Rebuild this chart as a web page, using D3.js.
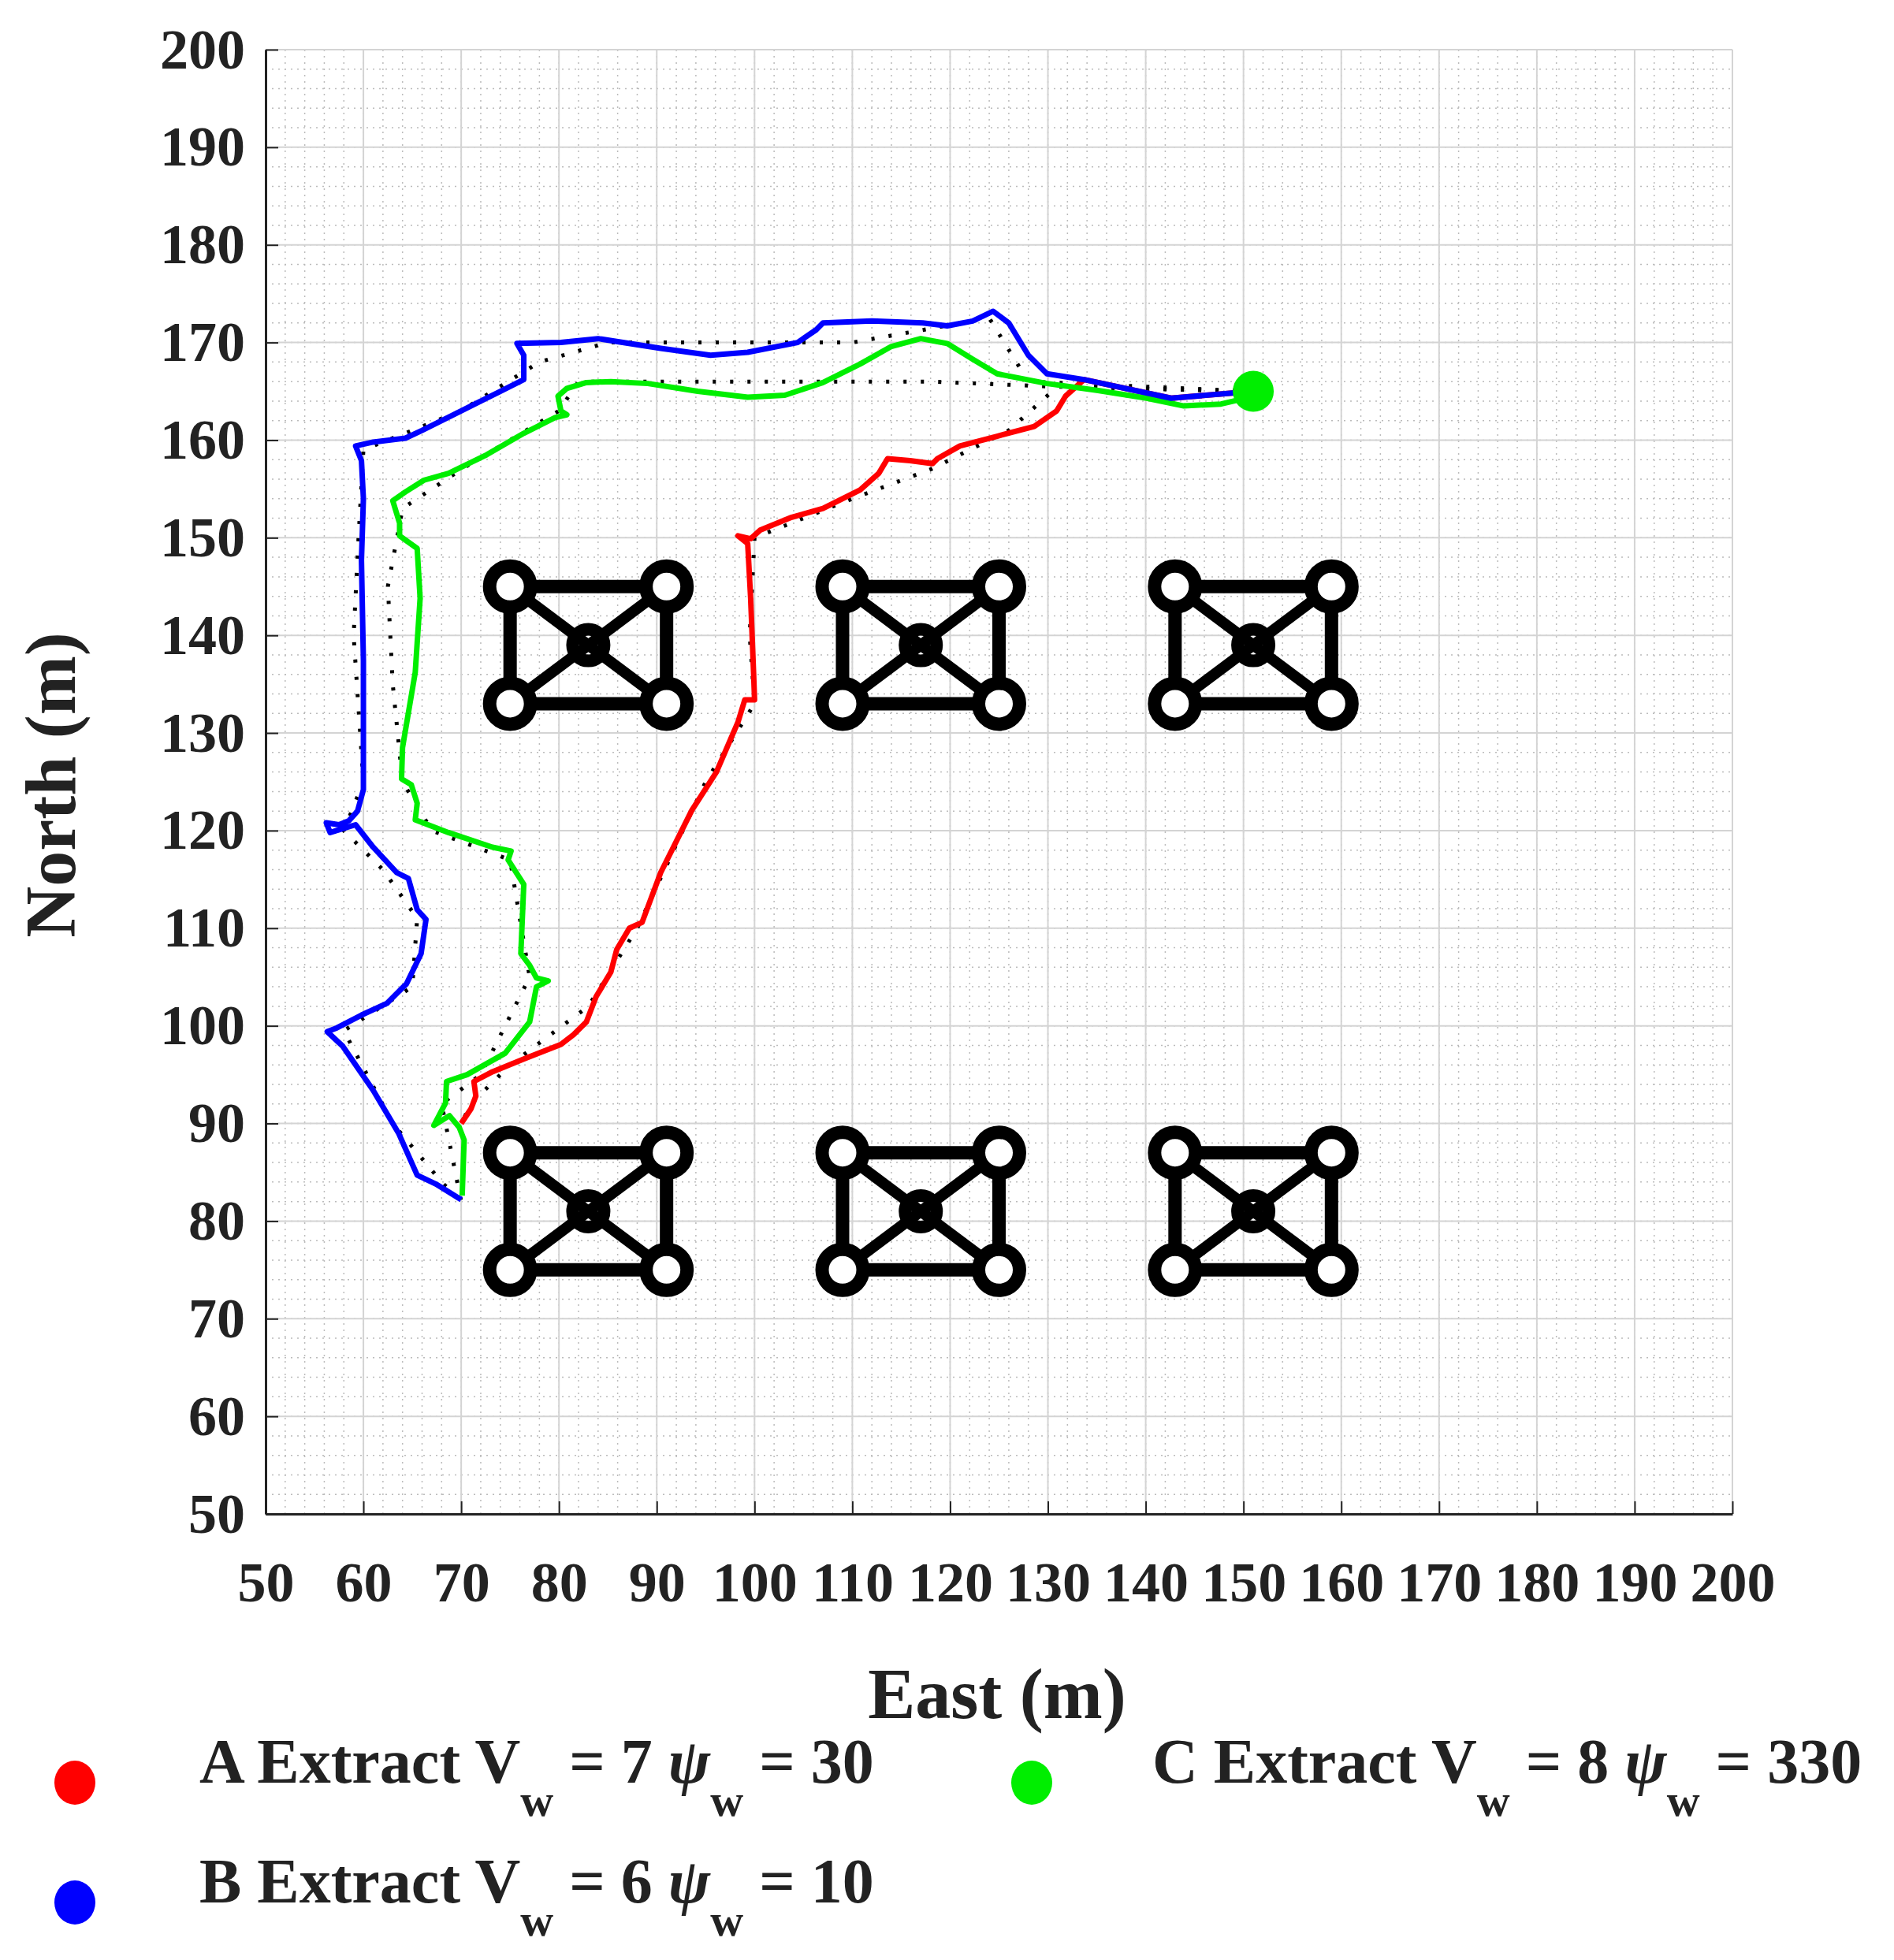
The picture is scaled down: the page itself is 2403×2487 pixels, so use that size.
<!DOCTYPE html>
<meta charset="utf-8">
<head><title>Extraction paths</title></head>
<style>
body { margin: 0; background: #fff; }
svg text { font-family: "Liberation Serif", "DejaVu Serif", serif; font-weight: bold; fill: #222; }
</style>
<body>
<svg id="chart" width="2403" height="2487"></svg>
<script src="https://cdnjs.cloudflare.com/ajax/libs/d3/7.8.5/d3.min.js"></script>
<script>
var ticks = d3.range(50, 201, 10);

var pathA = [[151,165],[142.6,164.3],[133.7,166.2],[131.8,164.5],[130.9,163],[128.6,161.4],[124.8,160.4],[121,159.4],[118.7,158.1],[118.2,157.6],[115.9,157.9],[113.6,158.1],[112.7,156.6],[110.8,154.9],[107,153],[103.8,152.1],[100.6,150.8],[99.6,149.9],[98.3,150.2],[99.3,149.4],[99.6,143.8],[99.9,136.2],[100,133.4],[99,133.4],[98.3,131.1],[96.1,126],[93.6,122.1],[90.4,115.7],[88.5,110.6],[87.2,110],[85.9,107.8],[85.3,105.5],[83.8,103],[82.8,100.4],[81.5,99.1],[80.2,98.1],[76.4,96.6],[73.2,95.3],[71.3,94.3],[71.5,92.8],[71,91.5],[70,90]];

var pathB = [[151,165],[142.6,164.3],[133.7,166.2],[129.9,166.8],[128,168.7],[126,172],[124.4,173.2],[122.3,172.2],[119.7,171.7],[117.2,172],[112,172.2],[107,172],[106.3,171.3],[104.4,170],[99.3,169],[95.5,168.7],[90.4,169.4],[84,170.4],[80.2,170],[75.7,169.9],[76.4,168.7],[76.4,166.2],[73.8,164.9],[70,163],[66,161],[64.3,160.2],[61,159.8],[59.2,159.4],[59.8,157.9],[60,154],[59.8,147.7],[60,137.4],[60,124.2],[59.4,122],[58.5,121],[57.5,120.6],[56.2,120.8],[56.6,119.8],[57.9,120.2],[59.2,120.6],[61,118.3],[63.4,115.7],[64.6,115.1],[65.5,111.9],[66.4,110.9],[65.9,107.4],[64.4,104.3],[62.4,102.3],[59.8,101.1],[57.3,99.8],[56.3,99.4],[57.9,97.9],[61,93.4],[63.6,89],[65.5,84.7],[67.4,83.8],[70,82.2]];

var pathC = [[151,165],[150.3,164.3],[147.7,163.7],[143.9,163.5],[140.1,164.3],[135,165.1],[129.9,165.8],[124.8,166.8],[122.3,168.3],[119.7,169.9],[117,170.4],[114,169.6],[110.8,167.8],[107,165.9],[103.1,164.6],[99.3,164.4],[94.2,165],[89.1,165.8],[85.3,166],[82.8,165.9],[80.8,165.3],[79.9,164.5],[80.2,163],[80.8,162.6],[79.6,162.3],[76.4,160.7],[72.6,158.5],[68.7,156.6],[66.2,155.9],[64.3,154.7],[63,153.8],[63.7,151.5],[63.7,150.2],[65.5,148.9],[65.8,143.8],[65.3,136.2],[64,128.5],[63.9,125.3],[64.9,124.7],[65.5,122.8],[65.3,121.1],[68.7,119.8],[73.2,118.3],[75.1,117.9],[74.8,117],[76.4,114.5],[76.1,107.4],[77,106.2],[77.7,104.9],[78.9,104.6],[77.7,104],[77,100.4],[74.5,97.2],[70.6,95],[68.5,94.3],[68.4,92.1],[67.2,89.8],[68.8,90.8],[69.8,89.6],[70.3,88.3],[70.1,82.6]];

var plannedA = [[151,165],[131,165.5],[126,161],[118,157],[110,154],[100,150],[99.5,140],[100,133],[95,125],[88,110],[83,102],[75,96],[71,92],[70,90]];
var plannedB = [[151,165],[128,166],[124,172.5],[110,170],[85,170],[78,168],[70,163],[60,159],[59.5,150],[59,140],[60,125],[58,120],[62,116],[65.5,111],[65,104],[58,99.5],[63,90],[68,84],[70,82]];
var plannedC = [[151,165],[130,165.5],[118,166],[100,166],[82,166],[80,163],[70,157],[64,153],[62.5,145],[63,135],[64,125],[67,120],[75,117],[77,105],[72,95],[68,92],[70,82]];

var obstacles = [[83,139],[117,139],[151,139],[83,81],[117,81],[151,81]];
var start = [151,165];

var svg = d3.select("#chart");
var x = d3.scaleLinear().domain([50, 200]).range([337, 2198]);
var y = d3.scaleLinear().domain([50, 200]).range([1921, 63]);

// minor dotted grid
var minor = d3.range(50, 201, 2);
var g = svg.append("g");
g.selectAll(".mx").data(minor).enter().append("line")
  .attr("x1", d => x(d)).attr("x2", d => x(d)).attr("y1", y(50)).attr("y2", y(200))
  .attr("stroke", "#bbb").attr("stroke-width", 1.5).attr("stroke-dasharray", "2,6");
g.selectAll(".my").data(minor).enter().append("line")
  .attr("y1", d => y(d)).attr("y2", d => y(d)).attr("x1", x(50)).attr("x2", x(200))
  .attr("stroke", "#bbb").attr("stroke-width", 1.5).attr("stroke-dasharray", "2,6");
// major grid
g.selectAll(".Mx").data(ticks).enter().append("line")
  .attr("x1", d => x(d)).attr("x2", d => x(d)).attr("y1", y(50)).attr("y2", y(200))
  .attr("stroke", "#d4d4d4").attr("stroke-width", 2);
g.selectAll(".My").data(ticks).enter().append("line")
  .attr("y1", d => y(d)).attr("y2", d => y(d)).attr("x1", x(50)).attr("x2", x(200))
  .attr("stroke", "#d4d4d4").attr("stroke-width", 2);

// axes
var xAxis = svg.append("g").attr("transform", "translate(0," + y(50) + ")")
  .call(d3.axisBottom(x).tickValues(ticks).tickSizeInner(-16).tickSizeOuter(0).tickPadding(60));
var yAxis = svg.append("g").attr("transform", "translate(" + x(50) + ",0)")
  .call(d3.axisLeft(y).tickValues(ticks).tickSizeInner(-16).tickSizeOuter(0).tickPadding(26));
[xAxis, yAxis].forEach(function(a) {
  a.select(".domain").attr("stroke", "#222").attr("stroke-width", 3);
  a.selectAll(".tick line").attr("stroke", "#222").attr("stroke-width", 2);
  a.selectAll("text").style("font-size", "72px").style("font-family", "Liberation Serif").style("font-weight", "bold").attr("fill", "#222");
});
xAxis.selectAll("text").attr("dy", "0.71em");

svg.append("text").attr("x", 1265).attr("y", 2180).attr("text-anchor", "middle")
  .style("font-size", "90px").text("East (m)");
svg.append("text").attr("transform", "translate(95,996) rotate(-90)").attr("text-anchor", "middle")
  .style("font-size", "90px").text("North (m)");

// obstacles
var ob = svg.append("g").attr("stroke", "#000").attr("fill", "none");
obstacles.forEach(function(c) {
  var cx = c[0], cy = c[1];
  var corners = [[cx-8, cy+6],[cx+8, cy+6],[cx+8, cy-6],[cx-8, cy-6]];
  var o = ob.append("g");
  o.append("polygon").attr("points", corners.map(p => x(p[0]) + "," + y(p[1])).join(" ")).attr("stroke-width", 17);
  o.append("line").attr("x1", x(cx-8)).attr("y1", y(cy+6)).attr("x2", x(cx+8)).attr("y2", y(cy-6)).attr("stroke-width", 14);
  o.append("line").attr("x1", x(cx+8)).attr("y1", y(cy+6)).attr("x2", x(cx-8)).attr("y2", y(cy-6)).attr("stroke-width", 14);
  corners.forEach(function(p) {
    o.append("circle").attr("cx", x(p[0])).attr("cy", y(p[1])).attr("r", 26).attr("fill", "#fff").attr("stroke-width", 17);
  });
  o.append("circle").attr("cx", x(cx)).attr("cy", y(cy)).attr("r", 20).attr("fill", "none").attr("stroke-width", 16);
});

var line = d3.line().x(d => x(d[0])).y(d => y(d[1]));
[plannedA, plannedB, plannedC].forEach(function(p) {
  svg.append("path").attr("d", line(p)).attr("fill", "none").attr("stroke", "#000")
    .attr("stroke-width", 5).attr("stroke-dasharray", "4,18");
});
[[pathA, "#ff0000"], [pathC, "#00ee00"], [pathB, "#0000ff"]].forEach(function(s) {
  svg.append("path").attr("d", line(s[0])).attr("fill", "none").attr("stroke", s[1])
    .attr("stroke-width", 7).attr("stroke-linejoin", "round");
});
svg.append("circle").attr("cx", x(start[0])).attr("cy", y(start[1])).attr("r", 26).attr("fill", "#00ee00");

// legend
var legend = [
  {color: "#ff0000", dx: 95, tx: 253, ty: 2262, name: "A Extract V", v: "7", p: "30"},
  {color: "#00ee00", dx: 1309, tx: 1462, ty: 2262, name: "C Extract V", v: "8", p: "330"},
  {color: "#0000ff", dx: 95, tx: 253, ty: 2414, name: "B Extract V", v: "6", p: "10"}
];
legend.forEach(function(l) {
  svg.append("ellipse").attr("cx", l.dx).attr("cy", l.ty + 0).attr("rx", 26).attr("ry", 28).attr("fill", l.color);
  var t = svg.append("text").attr("x", l.tx).attr("y", l.ty).style("font-size", "80px");
  t.append("tspan").text(l.name);
  t.append("tspan").attr("dy", 42).style("font-size", "58px").text("w");
  t.append("tspan").attr("dy", -42).text(" = " + l.v + " ");
  t.append("tspan").style("font-style", "italic").text("\u03C8");
  t.append("tspan").attr("dy", 42).style("font-size", "58px").text("w");
  t.append("tspan").attr("dy", -42).text(" = " + l.p);
});
</script>
</body>
</html>
